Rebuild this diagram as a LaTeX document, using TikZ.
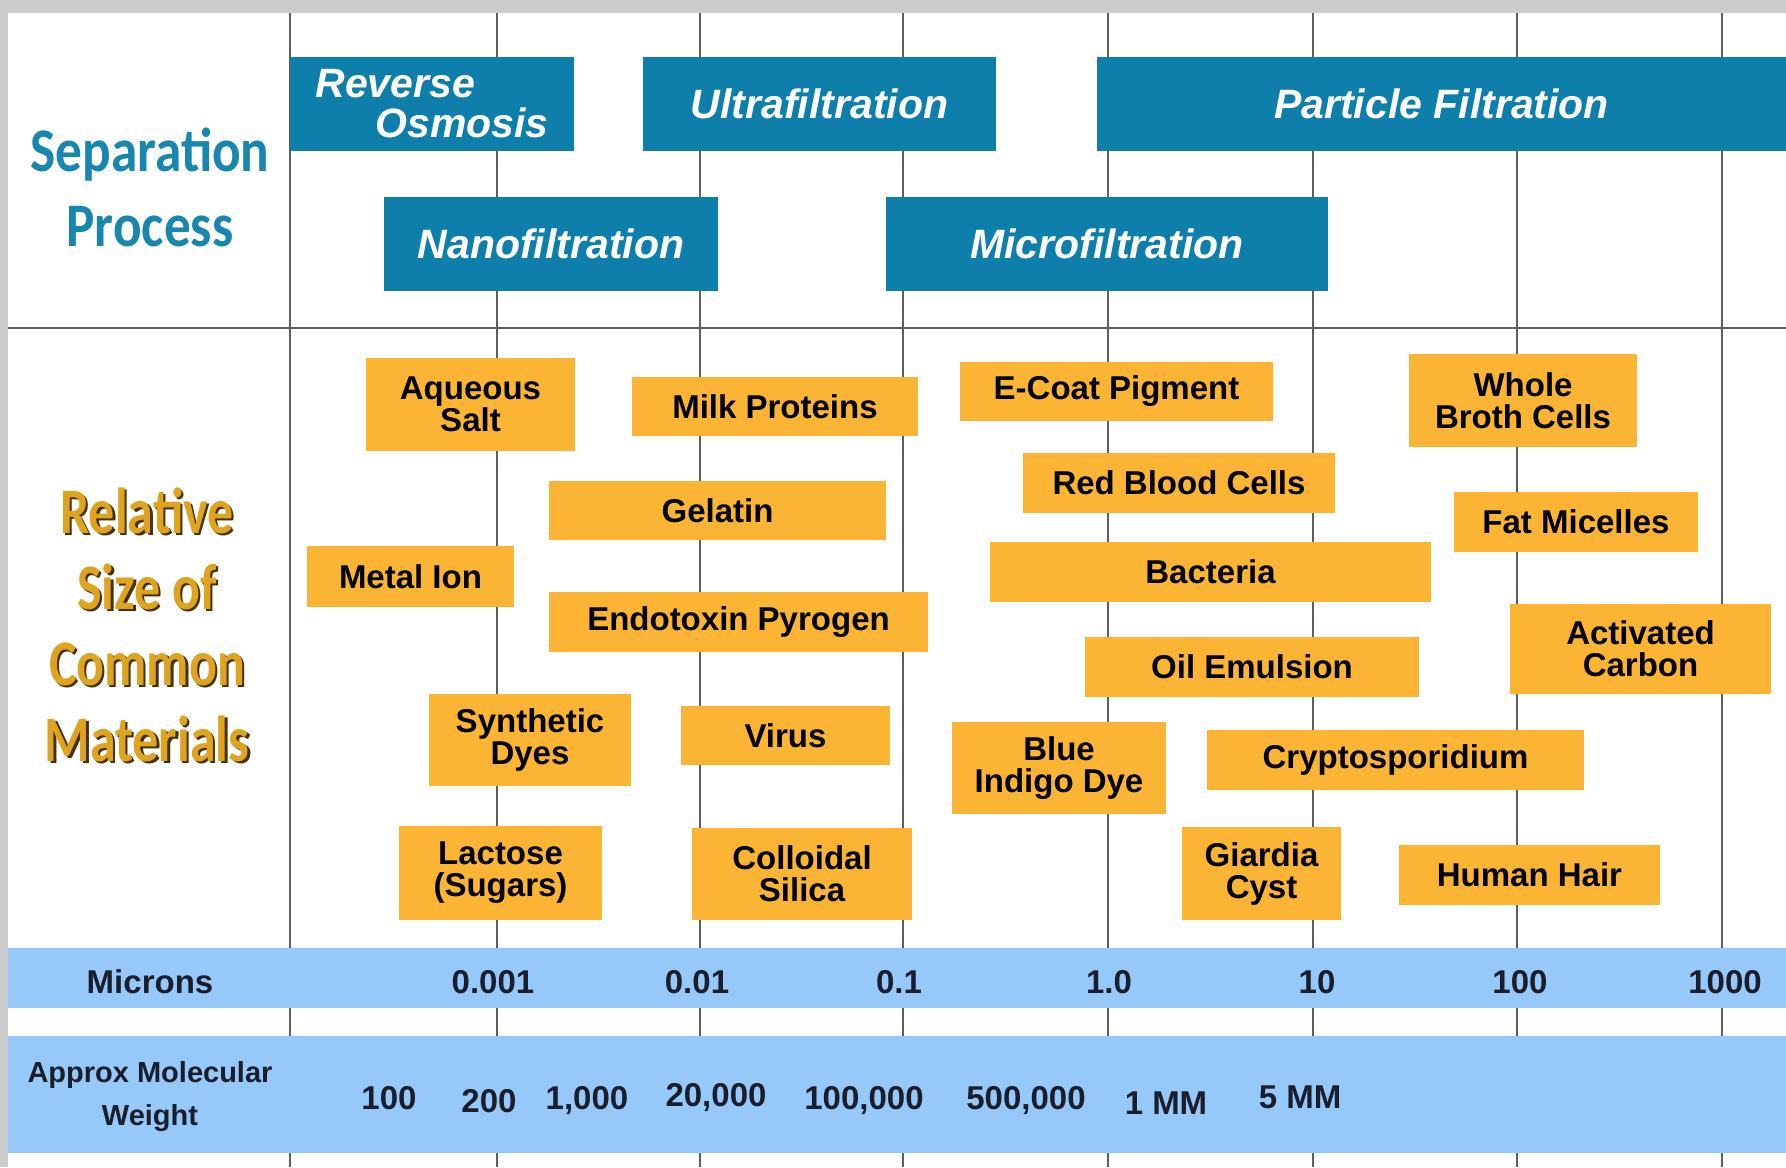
\documentclass[tikz,border=0pt]{standalone}
\usepackage{fontspec}
\setmainfont{Liberation Sans}
\newfontfamily\sepfont[FakeStretch=0.86]{Carlito}
\newfontfamily\relfont[FakeStretch=0.80]{Carlito}

\definecolor{procblue}{RGB}{14,127,170}
\definecolor{headblue}{RGB}{24,135,176}
\definecolor{matorange}{RGB}{251,180,51}
\definecolor{bandblue}{RGB}{150,200,250}
\definecolor{gridgray}{RGB}{95,95,95}
\definecolor{framegray}{RGB}{205,205,205}
\definecolor{gold}{RGB}{222,164,32}
\definecolor{goldshade}{RGB}{72,48,5}
\definecolor{inkblue}{RGB}{25,30,45}

\newcommand{\goldline}[1]{\makebox[0pt][l]{\hspace{1.2pt}\raisebox{-1.2pt}{\color{goldshade}#1}}{\color{gold}#1}}

\begin{document}
\begin{tikzpicture}[x=0.5pt,y=-0.5pt,
  box/.style args={#1:#2:#3:#4}{at={({(#1+#3)/2},{(#2+#4)/2})},
    minimum width={(#3-#1)*0.5pt},minimum height={(#4-#2)*0.5pt}},
  proc/.style={fill=procblue,inner sep=0pt,text=white,font=\fontsize{20.5}{20}\selectfont\bfseries\itshape},
  mat/.style={fill=matorange,inner sep=0pt,align=center,font=\fontsize{16.5}{16}\selectfont\bfseries},
  gridline/.style={gridgray,line width=1.1pt}]
  \tikzstyle{scalelabel} = [text=inkblue,font=\fontsize{16.5}{16}\selectfont\bfseries]
  \useasboundingbox (0,0) rectangle (1786,1167);
  \fill[white] (0,0) rectangle (1786,1167);
  \fill[framegray] (0,0) rectangle (1786,13);
  \fill[framegray] (0,0) rectangle (8,1167);
  % grid
  \foreach \x in {290,497,700,903,1108,1313,1517,1722}
    \draw[gridline] (\x,13) -- (\x,1167);
  \draw[gridline] (8,328) -- (1786,328);
  % scale bands
  \fill[bandblue] (8,948) rectangle (1786,1008);
  \fill[bandblue] (8,1036) rectangle (1786,1153);

  % separation processes
  \node (ro) [proc,align=left,box=290:57:574:151] {Reverse\\\hspace*{30pt}Osmosis};
  \node (uf) [proc,box=643:57:996:151] {Ultrafiltration};
  \node (pf) [proc,box=1097:57:1786:151] {Particle Filtration};
  \node (nf) [proc,box=384:197:718:291] {Nanofiltration};
  \node (mf) [proc,box=886:197:1328:291] {Microfiltration};

  % materials
  \node (aqueous) [mat,box=366:358:575:451] {Aqueous\\Salt};
  \node (milk) [mat,box=632:377:918:436] {Milk Proteins};
  \node (ecoat) [mat,box=960:362:1273:421] {E-Coat Pigment};
  \node (broth) [mat,box=1409:354:1637:447] {Whole\\Broth Cells};
  \node (blood) [mat,box=1023:453:1335:513] {Red Blood Cells};
  \node (gelatin) [mat,box=549:481:886:540] {Gelatin};
  \node (micelles) [mat,box=1454:492:1698:552] {Fat Micelles};
  \node (metal) [mat,box=307:546:514:607] {Metal Ion};
  \node (bacteria) [mat,box=990:542:1431:602] {Bacteria};
  \node (endotoxin) [mat,box=549:592:928:652] {Endotoxin Pyrogen};
  \node (carbon) [mat,box=1510:604:1771:694] {Activated\\Carbon};
  \node (oil) [mat,box=1085:637:1419:697] {Oil Emulsion};
  \node (dyes) [mat,box=429:694:631:786] {Synthetic\\Dyes};
  \node (virus) [mat,box=681:706:890:765] {Virus};
  \node (indigo) [mat,box=952:722:1166:814] {Blue\\Indigo Dye};
  \node (crypto) [mat,box=1207:730:1584:790] {Cryptosporidium};
  \node (lactose) [mat,box=399:826:602:920] {Lactose\\(Sugars)};
  \node (silica) [mat,box=692:828:912:920] {Colloidal\\Silica};
  \node (giardia) [mat,box=1182:827:1341:920] {Giardia\\Cyst};
  \node (hair) [mat,box=1399:845:1660:905] {Human Hair};

  % row headings
  \node (sep) [align=center,text=headblue,font={\sepfont\bfseries\fontsize{31}{37.5}\selectfont}] at (150,187) {Separation\\Process};
  \node (rel) [align=center,font={\relfont\bfseries\fontsize{32.5}{38}\selectfont}] at (147,626)
    {\goldline{Relative}\\\goldline{Size of}\\\goldline{Common}\\\goldline{Materials}};
  \node (microns) [scalelabel] at (150,982) {Microns};
  \node (mw) [align=center,text=inkblue,font={\bfseries\fontsize{14.5}{21.5}\selectfont}] at (150,1097) {Approx Molecular\\Weight};

  % microns
  \node (m1) [scalelabel] at (493,982) {0.001};
  \node (m2) [scalelabel] at (697,982) {0.01};
  \node (m3) [scalelabel] at (899,982) {0.1};
  \node (m4) [scalelabel] at (1109,982) {1.0};
  \node (m5) [scalelabel] at (1317,982) {10};
  \node (m6) [scalelabel] at (1520,982) {100};
  \node (m7) [scalelabel] at (1725,982) {1000};

  % molecular weight
  \node (w1) [scalelabel] at (389,1098) {100};
  \node (w2) [scalelabel] at (489,1101) {200};
  \node (w3) [scalelabel] at (587,1101) {1,000};
  \node (w4) [scalelabel] at (716,1098) {20,000};
  \node (w5) [scalelabel] at (864,1101) {100,000};
  \node (w6) [scalelabel] at (1026,1101) {500,000};
  \node (w7) [scalelabel] at (1166,1103) {1 MM};
  \node (w8) [scalelabel] at (1300,1097) {5 MM};
\end{tikzpicture}
\end{document}
